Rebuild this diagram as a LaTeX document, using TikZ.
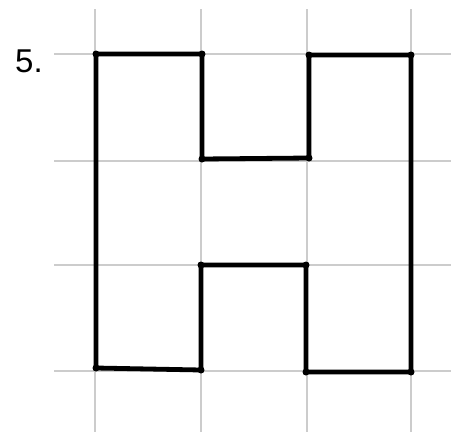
\documentclass[tikz,border=0pt]{standalone}
\usepackage{fontspec}
\setmainfont{Liberation Sans}
\begin{document}
\begin{tikzpicture}[x=1pt,y=-1pt,
  gridline/.style={draw=black!20,line width=1.3pt},
  shapeline/.style={draw=black,line width=4.8pt,line join=miter},
  vdot/.style={circle,fill=black,inner sep=0pt,minimum size=7pt}]
\useasboundingbox (0,0) rectangle (451,432);
\fill[white] (0,0) rectangle (451,432);
% grid
\foreach \x in {95,201,307,411} \draw[gridline] (\x,9) -- (\x,432);
\foreach \y in {54,161,265,371} \draw[gridline] (54,\y) -- (451,\y);
% label
\node[font=\fontsize{33}{36}\selectfont,anchor=center] (lab) at (29,61) {5.};
% vertices
\coordinate (p1) at (96,54);
\coordinate (p2) at (202,54);
\coordinate (p3) at (202,159);
\coordinate (p4) at (309,158);
\coordinate (p5) at (309,55);
\coordinate (p6) at (411,55);
\coordinate (p7) at (411,372);
\coordinate (p8) at (306,372);
\coordinate (p9) at (306,265);
\coordinate (p10) at (201,265);
\coordinate (p11) at (201,370);
\coordinate (p12) at (96,368);
\draw[shapeline] (p1) -- (p2) -- (p3) -- (p4) -- (p5) -- (p6) -- (p7) -- (p8) -- (p9) -- (p10) -- (p11) -- (p12) -- cycle;
\foreach \p in {p1,p2,p3,p4,p5,p6,p7,p8,p9,p10,p11,p12} \node[vdot] at (\p) {};
\end{tikzpicture}
\end{document}
